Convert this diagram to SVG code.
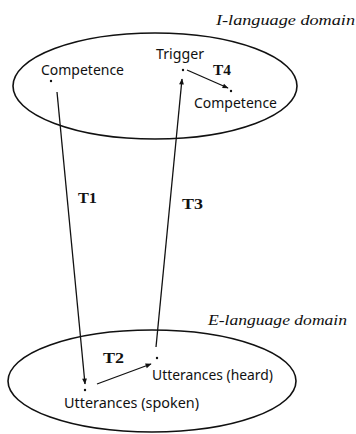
<svg xmlns="http://www.w3.org/2000/svg" width="356" height="434" viewBox="0 0 356 434">
<style>
.bg{fill:#fff}
.dom{fill:none;stroke:#111;stroke-width:1.6}
.lbl{font-family:"Noto Sans","Liberation Sans",sans-serif;font-size:13.5px;fill:#111}
.it{font-family:"Liberation Serif",serif;font-style:italic;font-size:15px;fill:#111}
.t{font-family:"Liberation Serif",serif;font-weight:bold;font-size:15px;fill:#111}
.dot{fill:#111}
.edge{stroke:#111;stroke-width:1.3;fill:none;marker-end:url(#ah)}
</style>
<defs>
<marker id="ah" viewBox="0 0 10 10" refX="9" refY="5" markerWidth="7" markerHeight="6" orient="auto" markerUnits="userSpaceOnUse">
<path d="M0,1 L10,5 L0,9 z" fill="#111"/>
</marker>
</defs>
<rect class="bg" width="356" height="434"/>
<g id="i-domain">
<ellipse class="dom" cx="155" cy="86" rx="142" ry="53"/>
<text class="it" x="216" y="25" textLength="139" lengthAdjust="spacingAndGlyphs">I-language domain</text>
</g>
<g id="e-domain">
<ellipse class="dom" cx="152" cy="381" rx="144" ry="51"/>
<text class="it" x="208" y="325" textLength="139" lengthAdjust="spacingAndGlyphs">E-language domain</text>
</g>
<g id="competence1">
<text class="lbl" x="41" y="75" textLength="83" lengthAdjust="spacingAndGlyphs">Competence</text>
<circle class="dot" cx="51" cy="81" r="1.2"/>
</g>
<g id="trigger">
<text class="lbl" x="156" y="59" textLength="48" lengthAdjust="spacingAndGlyphs">Trigger</text>
<circle class="dot" cx="183" cy="70" r="1.2"/>
</g>
<g id="competence2">
<circle class="dot" cx="231" cy="91" r="1.2"/>
<text class="lbl" x="194" y="108" textLength="83" lengthAdjust="spacingAndGlyphs">Competence</text>
</g>
<g id="heard">
<circle class="dot" cx="157" cy="358" r="1.2"/>
<text class="lbl" x="152" y="380" textLength="121" lengthAdjust="spacingAndGlyphs">Utterances (heard)</text>
</g>
<g id="spoken">
<circle class="dot" cx="85" cy="390" r="1.2"/>
<text class="lbl" x="64" y="408" textLength="135" lengthAdjust="spacingAndGlyphs">Utterances (spoken)</text>
</g>
<g id="connectors">
<line class="edge" x1="57" y1="92" x2="85" y2="384"/>
<line class="edge" x1="156" y1="347" x2="182" y2="79"/>
<line class="edge" x1="97" y1="384" x2="151" y2="364"/>
<line class="edge" x1="187" y1="70" x2="228" y2="88"/>
<text class="t" x="78" y="203" textLength="19" lengthAdjust="spacingAndGlyphs">T1</text>
<text class="t" x="182" y="209" textLength="21" lengthAdjust="spacingAndGlyphs">T3</text>
<text class="t" x="103" y="363" textLength="21" lengthAdjust="spacingAndGlyphs">T2</text>
<text class="t" x="213" y="75" textLength="18" lengthAdjust="spacingAndGlyphs">T4</text>
</g>
</svg>
